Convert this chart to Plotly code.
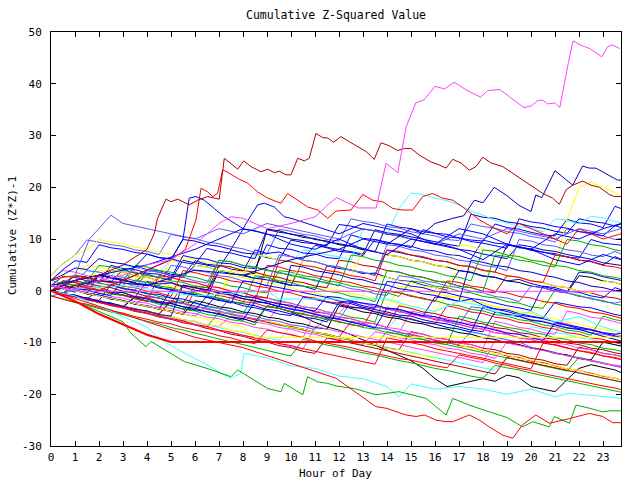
import plotly.graph_objects as go

# ---------------- data ----------------
# half-hour sample grid (hour of day)
HALF = [0, 0.5, 1, 1.5, 2, 2.5, 3, 3.5, 4, 4.5, 5, 5.5, 6, 6.5, 7, 7.5,
        8, 8.5, 9, 9.5, 10, 10.5, 11, 11.5, 12, 12.5, 13, 13.5, 14, 14.5, 15, 15.5,
        16, 16.5, 17, 17.5, 18, 18.5, 19, 19.5, 20, 20.5, 21, 21.5, 22, 22.5, 23, 23.5, 23.75]
X_TICKS = list(range(0, 24))
Y_TICKS = [-30, -20, -10, 0, 10, 20, 30, 40, 50]

blue_series = [
    [0, 0.6, -0.3, 1.2, 3.1, 2.4, 2.0, 4.8, 4.1, 3.9, 3.2, 2.9, 5.8, 5.1, 4.9, 4.2, 3.8, 7.9, 7.2, 7.5, 6.6, 6.1, 8.8, 8.3,
     7.6, 7.4, 6.8, 9.9, 9.2, 9.0, 8.3, 11.8, 11.1, 10.9, 10.2, 9.8, 9.6, 12.9, 12.2, 11.9, 11.3, 10.8, 10.6, 13.8, 13.1, 12.9, 12.2, 16.3, 15.9],
    [1, 2.8, 2.6, 1.9, 1.7, 4.9, 4.3, 4.1, 3.4, 3.2, 2.5, 6.8, 6.3, 6.1, 5.4, 5.2, 4.5, 4.3, 8.9, 8.2, 8.0, 7.3, 7.1, 6.4,
     6.2, 10.8, 10.1, 9.9, 9.4, 8.8, 8.6, 7.9, 7.7, 7.0, 6.8, 6.1, 9.8, 9.2, 9.0, 8.3, 8.1, 7.4, 7.2, 6.5, 6.3, 9.9, 9.2, 9.0, 8.8],
    [0, -0.4, 1.1, 0.6, 0.2, -0.5, -0.3, -1.2, 1.8, 1.3, 1.5, 0.7, 0.1, -0.2, 3.9, 3.3, 3.1, 2.4, 2.6, 1.7, 1.1, 0.9, 0.2, 4.8,
     4.3, 4.0, 3.3, 3.4, 2.6, 2.0, 1.8, 1.1, 0.6, 0.1, 3.9, 3.5, 2.8, 2.6, 1.9, 2.2, 1.4, 0.8, 0.3, -0.3, 3.6, 3.4, 2.7, 2.2, 2.0],
    [0, -0.6, -0.8, -1.5, -1.9, 1.2, 0.4, 0.1, -0.6, -0.7, -1.4, -1.6, -2.3, -3.0, -0.2, -0.5, -1.1, -1.3, -2.0, -2.6, -2.8, -3.5, -3.9, -1.1,
     -1.3, -2.0, -2.4, -2.7, -3.4, -3.6, -4.3, -4.9, -1.2, -1.4, -2.1, -1.6, -2.8, -3.5, -3.7, -4.4, -4.9, -5.3, -2.2, -2.6, -3.1, -3.3, -4.0, -4.6, -4.8],
    [0, -0.7, -1.1, -1.7, -2.0, -2.6, -3.2, -1.2, -1.6, -2.3, -2.5, -3.1, -3.7, -4.0, -4.6, -5.1, -5.7, -2.1, -2.4, -3.0, -3.6, -3.9, -4.5, -5.2,
     -5.5, -6.1, -6.6, -7.2, -3.3, -3.6, -4.2, -4.8, -5.0, -5.7, -6.1, -6.7, -7.0, -7.6, -8.2, -8.4, -9.1, -9.6, -6.2, -6.7, -7.3, -7.6, -8.2, -8.8, -9.0],
    [1, 0.6, 0.1, -0.5, -0.8, -1.4, -1.9, -2.6, -2.9, -3.5, 0.2, -0.4, -0.7, -1.3, -1.9, -2.2, -2.9, -3.3, -3.8, -4.5, -4.8, -1.2, -1.7, -2.1,
     -2.6, -3.2, -3.4, -4.1, -4.7, -5.0, -5.6, -6.1, -6.4, -7.1, -7.4, -8.0, -3.1, -3.6, -4.0, -4.7, -5.1, -5.4, -6.0, -6.6, -7.0, -7.5, -8.1, -8.4, -8.2],
    [2, 4.1, 5.8, 5.5, 8.9, 8.3, 8.0, 7.4, 7.1, 6.4, 6.2, 5.5, 5.1, 8.2, 7.6, 7.3, 6.7, 6.2, 11.8, 11.3, 11.0, 10.3, 10.1, 9.4,
     9.1, 8.6, 8.2, 7.5, 12.9, 12.3, 12.0, 11.4, 11.1, 10.4, 10.2, 9.5, 9.2, 8.7, 8.2, 13.9, 13.3, 13.0, 12.4, 12.1, 11.4, 11.2, 10.6, 12.6, 12.2],
    [0, 1.1, 0.4, 0.2, -0.5, -0.9, 2.1, 1.4, 1.2, 0.5, 0.3, -0.4, -0.8, -1.3, -1.7, -2.4, 1.9, 1.6, 1.0, 0.6, 0.1, -0.4, -0.9, -1.3,
     -2.0, -2.2, -2.9, -3.4, 1.8, 1.5, 0.9, 0.6, -0.1, -0.4, -1.0, -1.5, -1.8, -2.4, -2.9, -3.3, -3.8, 0.9, 0.6, -0.1, -0.3, -1.0, -1.4, 0.6, 0.2],
]
navy_series = [
    [0, 1.2, 2.9, 2.6, 1.9, 1.7, 4.1, 3.4, 3.2, 2.5, 2.1, 5.9, 5.4, 5.0, 4.5, 7.9, 7.3, 7.1, 6.4, 6.0, 9.8, 9.3, 9.1, 8.4,
     8.0, 7.6, 7.1, 11.8, 11.2, 10.9, 10.4, 9.9, 9.5, 9.0, 8.6, 14.8, 14.2, 14.0, 13.3, 13.0, 12.4, 12.1, 11.5, 11.1, 13.9, 13.4, 13.1, 12.5, 12.9],
    [1, 0.4, 0.2, -0.5, 3.1, 2.6, 2.2, 1.5, 1.1, 0.7, 0.1, -0.3, -1.0, -1.2, 3.9, 3.4, 3.0, 2.4, 2.1, 1.5, 1.0, 5.9, 5.6, 4.9,
     4.6, 4.0, 3.5, 3.2, 7.8, 7.4, 6.9, 6.5, 5.9, 5.6, 4.9, 4.7, 4.0, 3.6, 8.8, 8.5, 7.8, 7.5, 6.9, 6.6, 5.9, 5.7, 5.0, 6.6, 6.1],
    [0, -0.6, -0.9, -1.6, 0.2, -0.3, -0.9, -1.3, -2.0, -2.3, -2.9, -3.5, -3.8, -1.0, -1.4, -2.1, -2.5, -2.9, -3.6, -3.9, -4.5, -5.1, -5.4, -6.0,
     -2.2, -2.5, -3.2, -3.6, -4.1, -4.7, -4.9, -5.6, -6.1, -6.4, -7.0, -7.6, -7.9, -4.1, -4.6, -5.0, -5.7, -6.0, -6.6, -7.2, -7.5, -8.2, -8.8, -9.4, -9.7],
    [2, 3.1, 4.4, 4.1, 6.2, 5.5, 5.2, 4.6, 7.1, 6.4, 6.1, 9.9, 9.6, 8.9, 8.6, 8.0, 11.9, 11.6, 10.9, 10.6, 10.0, 9.7, 9.1, 8.7,
     12.8, 12.5, 11.9, 11.6, 10.9, 10.7, 10.0, 9.6, 9.1, 8.7, 8.0, 7.7, 7.1, 6.6, 6.2, 8.9, 8.5, 7.9, 7.6, 7.0, 6.5, 6.1, 5.4, 5.1, 4.9],
    [0, -0.5, -1.1, -1.4, -2.1, -2.4, -3.0, -3.6, -3.9, -4.6, -4.9, 1.1, 0.6, 0.2, -0.5, -0.8, -1.5, -1.9, -2.4, -3.1, 4.9, 4.6, 3.9, 3.5,
     3.1, 2.4, 2.1, 1.4, 1.1, 0.4, 0.1, -0.6, -0.9, -1.6, -2.0, 5.9, 5.5, 4.9, 4.6, 3.9, 3.6, 3.0, 2.6, 1.9, 1.6, 0.9, 0.6, 0.0, -0.2],
]
slate_series = [
    [3, 5.2, 6.9, 9.8, 9.4, 8.9, 8.6, 7.9, 7.6, 7.0, 10.9, 10.4, 10.1, 9.4, 9.1, 8.5, 8.1, 7.4, 7.1, 11.9, 11.5, 10.9, 10.6, 9.9,
     9.6, 13.9, 13.4, 13.1, 12.4, 12.1, 11.4, 11.0, 10.6, 9.9, 9.7, 12.9, 12.4, 12.1, 11.4, 11.1, 10.5, 10.1, 9.4, 11.9, 11.5, 10.9, 10.6, 9.9, 10.1],
    [0, 0.6, 0.1, -0.4, -0.9, -1.6, -1.9, -2.6, -1.1, -1.4, -2.1, -2.5, -2.9, -3.6, -3.9, -1.2, -1.5, -2.1, -2.4, -3.1, -3.5, -3.9, -4.6, -4.9,
     -5.6, -2.1, -2.4, -3.1, -3.4, -4.1, -4.4, -4.9, -5.5, -5.9, -6.6, -3.1, -3.4, -4.1, -4.5, -4.9, -5.6, -5.9, -6.5, -7.1, -7.4, -8.1, -8.4, -8.9, -9.1],
    [1, 0.4, 0.1, -0.6, -1.0, -1.4, -2.1, -2.4, -3.1, -3.4, -4.1, -4.5, -4.9, -2.9, -3.4, -4.0, -4.5, -4.9, -5.6, -5.9, -6.6, -6.9, -7.5, -4.9,
     -5.4, -6.0, -6.4, -7.1, -7.4, -8.0, -8.6, -8.9, -9.5, -10.1, -10.4, -7.9, -8.4, -9.0, -9.5, -9.9, -10.9, -11.4, -11.9, -12.6, -12.9, -13.6, -14.0, -14.6, -14.8],
    [-1, -0.4, 0.1, 2.1, 1.4, 1.1, 0.4, 0.1, 3.9, 3.6, 2.9, 2.6, 1.9, 1.5, 5.9, 5.6, 4.9, 4.5, 4.1, 3.4, 3.1, 2.4, 2.1, 1.4,
     1.1, 0.4, 0.1, -0.6, -0.9, 2.9, 2.6, 1.9, 1.6, 0.9, 0.6, -0.1, -0.4, -1.1, -1.4, -2.1, 0.9, 0.6, -0.1, -0.4, -1.1, -1.4, -2.1, -2.4, -2.1],
    [0, 1.1, 1.9, 3.9, 3.6, 2.9, 2.6, 1.9, 1.6, 0.9, 4.9, 4.6, 3.9, 3.6, 2.9, 2.6, 1.9, 1.6, 0.9, 6.9, 6.6, 5.9, 5.6, 4.9,
     4.6, 3.9, 3.6, 2.9, 8.9, 8.6, 7.9, 7.6, 6.9, 6.6, 5.9, 5.6, 4.9, 4.6, 3.9, 9.9, 9.6, 8.9, 8.6, 7.9, 7.6, 6.9, 6.6, 7.6, 7.1],
]
red_series = [
    [0, -0.6, -0.9, -1.6, -1.9, -2.5, -3.1, -3.4, -4.1, -4.4, -2.1, -2.4, -3.1, -3.4, -4.0, -4.5, -4.9, -5.6, -5.9, -6.6, -6.9, -7.5, -8.1, -8.4,
     -9.0, -5.9, -6.4, -7.1, -7.4, -8.1, -8.4, -9.0, -9.6, -9.9, -10.6, -10.9, -11.6, -11.9, -12.6, -12.9, -13.6, -13.9, -14.5, -15.1, -15.4, -16.0, -16.5, -16.9, -17.2],
    [1, 0.4, 0.1, -0.6, -0.9, -1.6, -1.9, -2.5, -3.1, -3.4, -4.1, -4.4, 0.1, -0.4, -0.9, -1.4, -2.1, -2.4, -3.1, -3.4, -4.0, -4.6, -4.9, -5.6,
     -5.9, -6.6, -6.9, -2.9, -3.6, -3.9, -4.6, -4.9, -5.6, -5.9, -6.5, -7.1, -7.4, -8.1, -8.4, -9.1, -9.4, -10.1, -10.4, -11.0, -11.6, -11.9, -12.6, -12.9, -13.2],
    [0, 1.9, 1.6, 0.9, 0.6, -0.1, -0.4, -1.1, -1.4, -2.1, -2.4, 1.1, 0.6, 0.1, -0.4, -0.9, -1.6, -1.9, 4.9, 4.6, 3.9, 3.6, 2.9, 2.6,
     1.9, 1.6, 0.9, 0.6, -0.1, -0.4, -1.1, -1.4, -2.1, 1.9, 1.6, 0.9, 0.6, -0.1, -0.4, -1.1, -1.4, -2.1, -2.4, -3.1, -3.4, -4.1, -4.4, -5.0, -5.3],
    [-1, -1.6, -2.2, -2.6, -3.3, -3.9, -4.3, -5.0, -5.5, -6.1, -6.4, -7.1, -7.6, -8.0, -8.7, -9.1, -9.8, -10.2, -7.6, -8.1, -8.6, -9.0, -9.7, -10.1,
     -10.6, -11.0, -11.6, -12.1, -12.5, -13.1, -13.4, -14.0, -14.5, -14.9, -12.4, -12.9, -13.3, -14.0, -14.4, -15.0, -15.4, -16.0, -16.5, -16.9, -17.5, -17.9, -18.4, -18.8, -19.1],
    [2, 2.6, 2.9, 2.4, 1.9, 1.6, 0.9, 0.6, -0.1, -0.4, -1.1, 3.9, 3.5, 2.9, 2.6, 1.9, 1.6, 0.9, 0.6, -0.1, -0.4, -1.1, -1.4, -2.1,
     -2.4, -3.1, -3.4, -4.1, -4.4, -5.1, -5.4, -6.1, -6.4, -2.9, -3.4, -4.1, -4.4, -5.1, -5.4, -6.1, -6.4, -7.1, -7.4, -8.1, -8.4, -9.1, -9.4, -10.0, -10.3],
    [0, -0.6, 1.1, 0.6, 0.1, -0.4, -0.9, -1.4, -2.1, 2.9, 2.6, 1.9, 1.6, 0.9, 0.6, -0.1, -0.4, -1.1, -1.4, 5.9, 5.6, 4.9, 4.6, 3.9,
     3.6, 2.9, 2.6, 1.9, 7.9, 7.6, 6.9, 6.6, 5.9, 5.6, 4.9, 4.6, 3.9, 3.6, 2.9, 2.6, 1.9, 1.6, 6.9, 6.6, 5.9, 5.6, 4.9, 4.6, 4.3],
    [0, -0.7, -1.2, -1.6, -2.3, -2.8, -3.2, -3.9, -4.3, -4.9, -5.4, -5.8, -6.5, -6.9, -7.6, -8.0, -8.6, -9.1, -9.5, -10.2, -10.6, -11.2, -11.7, -12.1,
     -12.7, -13.2, -13.6, -14.2, -9.1, -9.6, -10.1, -10.5, -11.2, -11.6, -12.1, -12.6, -13.0, -13.6, -14.1, -14.5, -15.1, -10.1, -10.5, -11.1, -11.6, -12.0, -12.6, -13.1, -13.3],
]
green_series = [
    [0, -0.6, -1.1, -1.5, -2.2, -2.6, -3.3, -3.7, -4.4, -4.8, -5.5, -5.9, -6.6, -7.0, -4.1, -4.6, -5.1, -5.6, -6.1, -6.6, -7.0, -7.6, -8.1, -8.5,
     -9.1, -9.6, -10.0, -10.6, -7.9, -8.4, -8.9, -9.5, -9.9, -10.5, -11.0, -11.4, -12.0, -12.5, -12.9, -13.5, -14.0, -14.4, -15.0, -15.5, -12.9, -13.4, -13.9, -14.4, -14.7],
    [1, 0.4, 0.1, 1.9, 1.6, 0.9, 0.6, -0.1, -0.4, -1.1, -1.4, -2.1, -2.4, -3.1, -3.4, -4.1, -4.4, -0.9, -1.4, -1.9, -2.4, -3.1, -3.4, -4.1,
     -4.4, -5.1, -5.4, -6.1, 0.1, -0.4, -0.9, -1.6, -1.9, -2.6, -2.9, -3.6, -3.9, -4.6, -4.9, -5.6, -5.9, -6.6, -6.9, -7.6, -7.9, -8.6, -4.9, -5.6, -5.8],
    [0, 1.1, 2.9, 2.6, 1.9, 1.6, 0.9, 4.9, 4.6, 3.9, 3.6, 2.9, 2.6, 1.9, 1.6, 0.9, 0.6, -0.1, -0.4, 3.9, 3.6, 2.9, 2.6, 1.9,
     1.6, 0.9, 0.6, -0.1, -0.4, -1.1, 1.9, 1.6, 0.9, 0.6, -0.1, -0.4, -1.1, -1.4, -2.1, -2.4, -3.1, -3.4, 0.1, -0.4, -0.9, -1.6, -1.9, -2.6, -2.8],
    [-1, -1.7, -2.3, -2.8, -3.5, -4.1, -4.6, -5.3, -5.9, -6.4, -7.1, -7.6, -8.2, -8.8, -9.3, -9.9, -10.4, -11.0, -11.5, -12.1, -12.6, -9.4, -9.9, -10.5,
     -10.9, -11.5, -12.0, -12.4, -13.0, -13.5, -13.9, -14.5, -15.0, -15.4, -16.0, -16.5, -16.9, -14.4, -14.9, -15.3, -15.9, -16.4, -16.8, -17.4, -17.9, -18.3, -18.9, -19.4, -19.6],
    [2, 1.4, 1.1, 0.4, 0.1, -0.6, -0.9, -1.6, -1.9, -2.6, -2.9, -3.6, -3.9, -4.6, -4.9, -5.6, -5.9, -6.6, -2.9, -3.4, -4.1, -4.4, -5.1, -5.4,
     -6.1, -6.4, -7.1, -7.4, -8.1, -8.4, -9.1, -9.4, -10.1, -10.4, -4.9, -5.4, -6.1, -6.4, -7.1, -7.4, -8.1, -8.4, -9.1, -9.4, -10.1, -10.4, -11.1, -11.4, -11.7],
    [0, 1.1, 0.6, 1.9, 4.9, 4.6, 3.9, 3.6, 2.9, 2.6, 1.9, 1.6, 0.9, 0.6, 5.9, 5.6, 4.9, 4.6, 3.9, 3.6, 2.9, 2.6, 1.9, 1.6,
     0.9, 6.9, 6.6, 5.9, 5.6, 4.9, 4.6, 3.9, 3.6, 2.9, 2.6, 1.9, 7.9, 7.6, 6.9, 6.6, 5.9, 5.6, 4.9, 4.6, 3.9, 3.6, 2.9, 2.6, 2.3],
    [0, 0.6, 1.1, 0.4, 0.1, -0.6, -0.9, 2.1, 1.6, 0.9, 0.6, -0.1, -0.4, -1.1, -1.4, -2.1, -2.4, 2.9, 2.6, 1.9, 1.6, 0.9, 0.6, -0.1,
     -0.4, -1.1, -1.4, -2.1, 3.9, 3.6, 2.9, 2.6, 1.9, 1.6, 0.9, 0.6, -0.1, 6.9, 6.6, 5.9, 5.6, 4.9, 4.6, 9.9, 9.6, 8.9, 8.6, 7.9, 7.7],
]
magenta_series = [
    [0, -0.6, -0.9, -1.6, -1.9, -2.6, -2.9, -3.6, -3.9, -4.6, -4.9, -5.6, -5.9, -6.6, -6.9, -4.9, -5.4, -6.1, -6.4, -7.1, -7.4, -8.1, -8.4, -9.1,
     -9.4, -10.1, -10.4, -7.9, -8.4, -9.1, -9.4, -10.1, -10.4, -11.1, -11.4, -12.1, -12.4, -13.1, -9.9, -10.4, -11.1, -11.4, -12.1, -12.4, -13.1, -13.4, -14.1, -14.4, -14.5],
    [1, 0.4, 0.1, -0.6, -0.9, -1.6, -1.9, -2.6, -0.9, -1.4, -2.1, -2.4, -3.1, -3.4, -4.1, -4.4, -5.1, -5.4, -6.1, -2.9, -3.4, -4.1, -4.4, -5.1,
     -5.4, -6.1, -6.4, -7.1, -7.4, -8.1, -3.9, -4.4, -5.1, -5.4, -6.1, -6.4, -7.1, -7.4, -8.1, -8.4, -9.1, -9.4, -10.1, -10.4, -11.1, -11.4, -12.1, -12.4, -12.7],
    [0, 0.9, 0.6, -0.1, -0.4, -1.1, -1.4, -2.1, -2.4, -3.1, -3.4, -4.1, -4.4, -5.1, -5.4, -6.1, -6.4, -7.1, -7.4, -8.1, -8.4, -9.1, -3.9, -4.4,
     -5.1, -5.4, -6.1, -6.4, -7.1, -7.4, -8.1, -8.4, -9.1, -9.4, -10.1, -10.4, -11.1, -5.9, -6.4, -7.1, -7.4, -8.1, -8.4, -3.9, -4.4, -5.1, -5.4, -6.1, -6.3],
    [2, 3.9, 3.6, 2.9, 2.6, 1.9, 1.6, 0.9, 0.6, 2.9, 2.6, 1.9, 1.6, 0.9, 0.6, -0.1, -0.4, -1.1, -1.4, -2.1, -2.4, -3.1, -3.4, -4.1,
     -4.4, -1.9, -2.4, -3.1, -3.4, -4.1, -4.4, -5.1, -5.4, -6.1, -6.4, -7.1, -7.4, -8.1, -8.4, -9.1, -9.4, -10.1, -5.9, -6.4, -7.1, -7.4, -8.1, -8.4, -8.7],
    [0, -0.7, -1.1, -1.7, -2.3, -2.7, -3.4, -3.8, -4.4, -5.0, -5.4, -6.0, -6.6, -7.0, -7.7, -8.1, -8.7, -9.2, -9.7, -10.3, -10.8, -11.3, -6.9, -7.4,
     -7.9, -8.5, -9.0, -9.4, -10.0, -10.5, -10.9, -11.5, -12.0, -12.4, -13.0, -13.5, -13.9, -9.6, -10.1, -10.5, -11.1, -11.6, -12.0, -12.6, -13.1, -13.5, -14.1, -14.5, -14.7],
]
yellow_series = [
    [1, 2.9, 2.6, 1.9, 3.9, 3.6, 2.9, 2.6, 1.9, 1.6, 0.9, 0.6, -0.1, -0.4, -1.1, 2.9, 2.6, 1.9, 1.6, 0.9, 0.6, -0.1, -0.4, -1.1,
     -1.4, -2.1, -2.4, -3.1, -3.4, 0.9, 0.6, -0.1, -0.4, -1.1, -1.4, -2.1, -2.4, -3.1, -3.4, -4.1, -4.4, -1.9, -2.4, -3.1, -3.4, -4.1, -4.4, -5.0, -5.2],
    [3, 5.1, 6.9, 7.9, 9.9, 9.4, 9.1, 8.4, 8.1, 7.4, 7.1, 6.4, 6.1, 5.4, 5.1, 4.4, 4.1, 3.4, 3.1, 2.4, 2.1, 1.4, 1.1, 0.4,
     0.1, -0.6, -0.9, -1.6, -1.9, -2.6, -2.9, -3.6, -3.9, -0.9, -1.4, -2.1, -2.4, -3.1, -3.4, -4.1, -4.4, -5.1, -5.4, -6.1, -6.4, -7.1, -7.4, -8.0, -8.2],
    [0, -0.6, -0.9, -1.6, -1.9, -2.6, -2.9, -3.6, -3.9, -4.6, -4.9, -5.6, -5.9, -6.6, -6.9, -7.6, -7.9, -8.6, -5.9, -6.4, -7.1, -7.4, -8.1, -8.4,
     -9.1, -9.4, -10.1, -10.4, -11.1, -11.4, -12.1, -12.4, -13.1, -9.9, -10.4, -11.1, -11.4, -12.1, -12.4, -13.1, -13.4, -14.1, -14.4, -15.1, -15.4, -16.1, -16.4, -17.0, -17.2],
    [2, 2.6, 2.9, 4.9, 4.6, 3.9, 3.6, 2.9, 2.6, 1.9, 5.9, 5.6, 4.9, 4.6, 3.9, 3.6, 2.9, 6.9, 6.6, 5.9, 5.6, 4.9, 4.6, 3.9,
     3.6, 2.9, 7.9, 7.6, 6.9, 6.6, 5.9, 5.6, 4.9, 4.6, 8.9, 8.6, 7.9, 7.6, 6.9, 6.6, 5.9, 5.6, 4.9, 13.7, 20.0, 21.0, 20.0, 19.0, 18.2],
    [0, 1.4, 1.1, 0.4, 0.1, 2.9, 2.6, 1.9, 1.6, 0.9, 0.6, -0.1, -0.4, -1.1, -1.4, 3.9, 3.6, 2.9, 2.6, 1.9, 1.6, 5.9, 5.6, 4.9,
     4.6, 3.9, 3.6, 2.9, 2.6, 1.9, 1.6, 0.9, 0.6, -0.1, 4.9, 4.6, 3.9, 3.6, 2.9, 2.6, 1.9, 1.6, 0.9, 0.6, -0.1, -0.4, 1.9, 1.6, 1.2],
]
cyan_series = [
    [0, -0.6, -1.1, -1.6, -2.1, -2.6, -3.1, -3.6, -4.1, -4.6, -5.1, -5.6, -6.1, -6.6, -7.1, -7.6, -8.1, -8.6, -9.1, -9.6, -6.9, -7.4, -7.9, -8.4,
     -8.9, -9.4, -9.9, -10.4, -10.9, -11.4, -11.9, -12.4, -12.9, -13.4, -13.9, -14.4, -14.9, -15.4, -12.9, -13.4, -13.9, -14.4, -14.9, -15.4, -15.9, -16.4, -16.9, -17.4, -17.7],
    [1, 0.4, 1.9, 1.6, 0.9, 0.6, -0.1, -0.4, -1.1, -1.4, -2.1, -2.4, -3.1, -3.4, -4.1, -4.4, -5.1, -1.9, -2.4, -3.1, -3.4, -4.1, -4.4, -5.1,
     -5.4, -6.1, -6.4, -7.1, -7.4, -4.9, -5.4, -6.1, -6.4, -7.1, -7.4, -8.1, -8.4, -9.1, -9.4, -10.1, -6.9, -7.4, -8.1, -8.4, -9.1, -9.4, -10.1, -10.4, -10.7],
    [0, 1.1, 1.9, 3.9, 3.6, 2.9, 4.9, 4.6, 3.9, 3.6, 5.9, 5.6, 4.9, 4.6, 3.9, 3.6, 2.9, 6.9, 6.6, 5.9, 5.6, 7.9, 7.6, 6.9,
     6.6, 5.9, 11.9, 11.6, 10.9, 15.9, 18.9, 18.6, 17.9, 17.4, 16.6, 15.4, 14.6, 13.6, 13.1, 12.4, 12.1, 11.4, 13.9, 13.6, 12.9, 14.4, 14.1, 13.4, 13.2],
]
darkred_series = [
    [0, -0.6, -0.9, -1.6, -1.9, -2.6, -2.9, -3.6, -3.9, -4.6, -1.9, -2.4, -3.1, -3.4, -4.1, -4.4, -5.1, -5.4, -6.1, -6.4, -7.1, -7.4, -8.1, -8.4,
     -9.1, -9.4, -10.1, -10.4, -11.1, -11.4, -7.9, -8.4, -9.1, -9.4, -10.1, -10.4, -11.1, -11.4, -12.1, -12.4, -13.1, -13.4, -14.1, -14.4, -10.9, -11.4, -12.1, -12.4, -12.7],
    [1, 1.6, 1.9, 1.4, 0.9, 0.6, -0.1, -0.4, -1.1, -1.4, -2.1, -2.4, 0.9, 0.6, -0.1, -0.4, -1.1, -1.4, -2.1, -2.4, -3.1, -3.4, -4.1, -4.4,
     -5.1, -5.4, -6.1, -6.4, -7.1, -2.9, -3.4, -4.1, -4.4, -5.1, -5.4, -6.1, -6.4, -7.1, -7.4, -8.1, -8.4, -9.1, -9.4, -10.1, -10.4, -11.1, -11.4, -12.0, -12.2],
    [0, 1.1, 2.9, 2.6, 1.9, 3.9, 3.6, 2.9, 2.6, 1.9, 1.6, 0.9, 0.6, -0.1, 4.9, 4.6, 3.9, 3.6, 2.9, 2.6, 1.9, 1.6, 0.9, 0.6,
     5.9, 5.6, 4.9, 4.6, 3.9, 3.6, 2.9, 2.6, 1.9, 1.6, 0.9, 0.6, -0.1, -0.4, 2.9, 2.6, 1.9, 1.6, 0.9, 0.6, -0.1, -0.4, -1.1, -1.4, -1.7],
    [0, -0.7, -1.1, -1.8, -2.2, -2.9, -3.3, -4.0, -4.4, -5.1, -5.5, -6.2, -6.6, -7.3, -7.7, -8.4, -8.8, -9.5, -9.9, -10.6, -11.0, -11.7, -12.1, -9.1,
     -9.6, -10.1, -10.6, -11.1, -11.6, -12.1, -12.6, -13.1, -13.6, -14.1, -14.6, -15.1, -15.6, -16.1, -12.9, -13.4, -13.9, -14.4, -14.9, -15.4, -15.9, -16.4, -16.9, -17.4, -17.6],
]
black_series = [
    [0, -0.5, -1.1, -1.4, -2.1, -2.4, -3.1, -1.1, -1.4, -2.1, -2.4, -3.1, -3.4, -4.1, -4.4, -5.1, -5.4, -6.1, -2.9, -3.4, -4.1, -5.0, -6.1, -7.0,
     -7.6, -8.5, -9.5, -10.5, -11.5, -12.5, -13.5, -15.0, -17.0, -18.5, -18.0, -17.5, -17.0, -17.5, -16.3, -16.8, -18.5, -19.0, -19.5, -17.2, -15.0, -14.3, -14.8, -15.3, -15.8],
    [0, 1.9, 1.6, 0.9, 2.9, 2.6, 1.9, 1.6, 3.9, 3.6, 2.9, 2.6, 4.9, 4.6, 3.9, 3.6, 2.9, 3.4, 11.9, 11.6, 10.9, 10.6, 9.9, 9.6,
     8.9, 8.6, 7.9, 7.6, 6.9, 6.6, 5.9, 5.6, 4.9, 4.6, 3.9, 3.6, 2.9, 2.6, 1.9, 1.6, 0.9, 0.6, -0.1, -0.4, 2.9, 2.6, 1.9, 1.6, 1.2],
    [1, 0.4, 0.1, -0.6, -0.9, -1.6, -1.9, -2.6, -2.9, -3.6, -3.9, -4.6, -1.9, -2.4, -3.1, -3.4, -4.1, -4.4, -5.1, -5.4, -6.1, -6.4, -7.1, -7.4,
     -2.9, -3.4, -4.1, -4.4, -5.1, -5.4, -6.1, -6.4, -7.1, -7.4, -8.1, -8.4, -9.1, -9.4, -10.1, -10.4, -11.1, -11.4, -12.1, -12.4, -13.1, -13.4, -9.9, -10.4, -10.7],
]

# traced outliers (x = hour, y = value)
mag_top_x = [0, 1, 2, 3, 4, 5, 6, 6.5, 7, 7.5, 8, 9, 10, 11, 11.25, 11.5, 11.9, 12.8, 13.55, 13.96,
             14.45, 14.8, 15.2, 15.55, 16, 16.4, 16.8, 17.3, 17.9, 18.2, 18.7, 19.1, 19.7, 20, 20.3,
             20.5, 20.7, 21, 21.2, 21.55, 21.75, 22.05, 22.45, 22.95, 23.2, 23.4, 23.7]
mag_top_y = [1, 0, 2, 3, 5, 6, 9, 11, 13, 14.3, 14, 12, 13, 14.3, 15.3, 16.5, 18, 16, 16, 24.6,
             22.8, 31.7, 36.3, 36.9, 39.5, 39, 40.3, 38.8, 37.4, 38.7, 38.9, 37.5, 35.4, 35.7, 36.8,
             36.8, 36.1, 36.3, 35.4, 43.9, 48.3, 47.5, 46.8, 45.2, 47.2, 47.5, 46.8]

dred_top_x = [0, 1, 2, 3, 4, 4.3, 4.44, 4.79, 5.0, 5.28, 5.76, 6.11, 6.53, 7.01, 7.22, 7.78, 8.03, 8.33,
              8.75, 9.03, 9.31, 9.51, 9.79, 10.0, 10.28, 10.56, 10.76, 11.04, 11.32, 11.53, 11.78,
              12.08, 12.43, 12.78, 13.13, 13.47, 13.75, 14.1, 14.44, 14.72, 15.0, 15.35, 15.83, 16.18,
              16.46, 16.74, 17.08, 17.43, 17.71, 17.99, 18.33, 18.82, 19.24, 19.65, 20.07, 20.49,
              20.9, 21.18, 21.46, 21.74, 22.15, 22.5, 22.85, 23.26, 23.47, 23.75]
dred_top_y = [0, 2, 3, 5, 8, 11, 14, 17.7, 17.2, 17.7, 16.6, 17.5, 18.2, 17.7, 25.6, 23.5, 25.1, 24.0,
              23.0, 23.5, 22.8, 23.1, 22.4, 22.4, 25.6, 25.1, 25.6, 30.4, 29.6, 29.5, 28.7,
              29.8, 28.8, 27.8, 26.9, 25.4, 28.6, 28.0, 27.1, 27.5, 27.5, 26.2, 24.9, 24.3,
              23.7, 25.4, 24.7, 23.3, 24.0, 25.8, 24.7, 24.0, 22.7, 21.4, 20.0, 18.8,
              17.9, 16.7, 19.5, 20.4, 21.2, 20.4, 20.0, 18.6, 18.2, 18.2]

red_top_x = [0, 1, 2, 3, 4, 5, 5.6, 6.04, 6.25, 6.53, 6.74, 6.94, 7.15, 7.29, 7.78, 8.19, 8.61, 9.03,
             9.58, 9.86, 10.28, 10.69, 11.11, 11.53, 11.875, 12.5, 12.99, 13.4, 13.82, 14.24, 14.65,
             15.07, 15.49, 15.9, 16.32, 16.74, 17.15, 17.85, 18.5, 19, 19.5, 20, 21, 21.5, 22, 22.5,
             23, 23.75]
red_top_y = [0, 1, 0, 2, 4, 6, 8, 13.7, 19.8, 19.1, 18.2, 18.8, 23.3, 23.1, 21.7, 20.8, 19.1, 17.9,
             16.9, 18.8, 17.5, 16.2, 15.6, 14.0, 15.4, 15.6, 18.6, 17.5, 17.2, 15.9, 15.6,
             15.6, 18.2, 18.8, 17.9, 17.5, 16.2, 13.7, 12, 11, 13, 12, 10, 9, 12, 11,
             10, 11]

blue_top_x = [0, 2, 4, 6, 8, 10, 12, 13, 14, 15, 15.5, 16, 16.74, 17.2, 17.64, 18.0, 18.47, 18.96,
              19.5, 20.0, 20.2, 20.45, 21.0, 21.46, 21.74, 22.15, 22.43, 22.7, 22.99, 23.26, 23.6, 23.75]
blue_top_y = [0, 2, 1, 4, 3, 6, 8, 10, 9, 12, 11, 13, 14, 14.5, 17.5, 17.0, 20.0, 18.5,
              16.5, 15.3, 18.5, 18.0, 23.2, 21.4, 20.4, 24.1, 23.7, 23.7, 23.0, 22.2, 21.4, 21.4]

blue_a_x = [0, 1, 2, 3, 4, 5, 5.5, 5.76, 6.04, 6.39, 6.8, 7.22, 8, 9, 10, 11, 12, 13, 14, 15, 16,
            17, 18, 19, 20, 21, 22, 23, 23.75]
blue_a_y = [0, 2, 3, 2, 4, 6, 10, 17.9, 18.2, 17.5, 15.9, 14.3, 12, 11, 9, 8, 10, 8, 7, 10, 9,
            8, 6, 9, 8, 6, 5, 7, 6]

blue_b_x = [0, 2, 4, 6, 7, 8, 8.26, 8.61, 8.89, 9.3, 9.72, 10, 11, 12, 13, 14, 15, 16, 17, 18, 19,
            20, 21, 22, 23, 23.75]
blue_b_y = [1, 3, 5, 8, 10, 12, 14, 16.6, 16.9, 16.2, 14.3, 14, 12.5, 11, 13, 12, 11, 9, 12, 11, 9,
            8, 11, 10, 12, 13]

slate_top_x = [0, 1, 1.6, 2.5, 3, 4, 5, 6, 7, 8, 9, 10, 11, 12, 13, 14, 15, 16, 17, 18, 19, 20, 21,
               22, 23, 23.75]
slate_top_y = [0, 3, 10, 14.6, 13, 12, 11, 10, 12, 11, 13, 12, 11, 10, 12, 11, 10, 9, 11, 10, 12, 11, 10,
               12, 11, 12]

green_bot_x = [0, 1, 2, 3, 3.33, 3.96, 4.17, 5.56, 6.5, 7.5, 7.78, 8.33, 9.03, 9.58, 9.72, 10.49,
               10.69, 11.11, 11.53, 11.875, 12.64, 13.54, 14.5, 15.625, 16.46, 16.74, 17.43, 18.26,
               19.0, 19.65, 20.07, 20.76, 20.97, 21.6, 21.875, 22.43, 22.99, 23.26, 23.75]
green_bot_y = [0, -2, -4, -6, -8.2, -10.8, -9.8, -13.7, -15, -16.6, -15.3, -16.9, -18.9, -19.5, -17.9,
               -20.1, -16.6, -17.6, -17.9, -18.4, -18.9, -20.1, -19.5, -20.8, -24.0, -20.8, -22.1,
               -23.4, -24.5, -26.3, -25.3, -26.3, -24.3, -25.6, -22.1, -22.7, -23.4, -23.2, -23.2]

red_bot_x = [0, 2, 4, 6, 8, 10, 11, 11.875, 13.54, 13.96, 14.79, 15.21, 15.56, 16.04, 16.46, 16.74,
             17.43, 17.85, 18.26, 18.82, 19.24, 19.65, 20.2, 20.76, 21.6, 22.15, 22.43, 22.99, 23.4, 23.75]
red_bot_y = [0, -3, -6, -9, -11, -14, -15.5, -16.9, -22.4, -22.7, -24.0, -24.3, -24.0, -25.0, -25.3,
             -25.3, -24.0, -25.0, -26.3, -27.9, -28.5, -25.9, -24.0, -25.6, -24.7, -24.0, -23.7,
             -24.3, -25.5, -25.5]

cyan_bot_x = [0, 1, 2, 3, 4, 4.5, 5.3, 6.0, 6.5, 7.1, 7.5, 7.9, 8.05, 9, 10, 11, 12, 13, 14, 14.5,
              15, 16, 17, 18, 19, 20, 21, 21.6, 22, 23, 23.75]
cyan_bot_y = [0, -1, -3, -5, -7, -9.2, -11.4, -13.1, -14.3, -16, -16.9, -16, -12.1, -13, -14.5, -15,
              -16.5, -17, -18.5, -20.5, -18, -19, -18.5, -19, -20, -19, -20.5, -19.8, -20, -20.5, -20.8]

cyan_flat_x = [0, 3, 6, 9, 9.5, 14, 15, 16, 17, 18, 19, 20, 21, 22, 23, 23.75]
cyan_flat_y = [0, 1, -1, 0, -1.6, -1.6, -3, -4, -2, -3, -5, -4, -6, -5, -7, -8]

yellow_flat_x = [0, 2, 4, 6, 8, 8.5, 23.75]
yellow_flat_y = [1, -1, -3, -5, -7, -9, -9]

mag_flat_x = [0, 0.5, 1.25, 23.75]
mag_flat_y = [1, 0.5, -0.1, -0.1]

red_flat_x = [0, 1, 2, 3, 4, 5, 23.75]
red_flat_y = [0, -2, -4.5, -6.5, -8.5, -9.9, -9.9]

# ---------------- styles ----------------
COL = {
    "red": "#ff0000", "green": "#00b000", "blue": "#0000ff", "navy": "#0000c0",
    "slate": "#5a5aff", "magenta": "#ff40ff", "cyan": "#40ffff", "darkred": "#b00000",
    "yellow": "#ffff00", "black": "#000000",
}
FONT = "DejaVu Sans Mono"
FSIZE = 11

fig = go.Figure()


def add(x, y, color, width=1):
    fig.add_trace(go.Scatter(x=x, y=y, mode="lines", line=dict(color=color, width=width),
                             hoverinfo="skip", showlegend=False))


# interleave colours so no single colour dominates the top of the stack
groups = [
    (yellow_series, COL["yellow"]), (cyan_series, COL["cyan"]), (green_series, COL["green"]),
    (magenta_series, COL["magenta"]), (red_series, COL["red"]), (darkred_series, COL["darkred"]),
    (slate_series, COL["slate"]), (navy_series, COL["navy"]), (blue_series, COL["blue"]),
    (black_series, COL["black"]),
]
longest = max(len(s) for s, _ in groups)
for i in range(longest):
    for series, color in groups:
        if i < len(series):
            add(HALF, series[i], color)

add(cyan_flat_x, cyan_flat_y, COL["cyan"])
add(yellow_flat_x, yellow_flat_y, COL["yellow"])
add(cyan_bot_x, cyan_bot_y, COL["cyan"])
add(green_bot_x, green_bot_y, COL["green"])
add(red_bot_x, red_bot_y, COL["red"])
add(slate_top_x, slate_top_y, COL["slate"])
add(blue_a_x, blue_a_y, COL["blue"])
add(blue_b_x, blue_b_y, COL["blue"])
add(blue_top_x, blue_top_y, COL["navy"])
add(red_top_x, red_top_y, COL["red"])
add(dred_top_x, dred_top_y, COL["darkred"])
add(mag_top_x, mag_top_y, COL["magenta"])
add(mag_flat_x, mag_flat_y, COL["magenta"])
add(red_flat_x, red_flat_y, COL["red"], width=2)

axis_common = dict(
    showline=True, linecolor="black", linewidth=1, mirror="ticks",
    ticks="inside", ticklen=5, tickcolor="black", tickwidth=1,
    showgrid=False, zeroline=False, automargin=False,
    tickfont=dict(family=FONT, size=FSIZE, color="black"),
)

fig.update_layout(
    width=640, height=480,
    margin=dict(l=51, r=19, t=32, b=34),
    paper_bgcolor="white", plot_bgcolor="white",
    title=dict(text="Cumulative Z-Squared Value", x=0.525, xanchor="center",
               y=1 - 15 / 480, yanchor="middle",
               font=dict(family=FONT, size=FSIZE + 0.5, color="black")),
    xaxis=dict(range=[0, 23.75], tickvals=X_TICKS, ticktext=[str(t) for t in X_TICKS],
               ticklabelstandoff=1, **axis_common),
    yaxis=dict(range=[-30, 50], tickvals=Y_TICKS, ticktext=[str(t) for t in Y_TICKS],
               ticklabelstandoff=6, **axis_common),
    annotations=[
        dict(text="Hour of Day", xref="paper", yref="paper", x=0.499, y=(446 - 473) / 414,
             xanchor="center", yanchor="middle", showarrow=False,
             font=dict(family=FONT, size=FSIZE, color="black")),
        dict(text="Cumulative (Z*Z)-1", xref="paper", yref="paper", x=(12 - 51) / 570, y=0.507,
             xanchor="center", yanchor="middle", textangle=-90, showarrow=False,
             font=dict(family=FONT, size=FSIZE, color="black")),
    ],
)

fig.write_html("out.html")
